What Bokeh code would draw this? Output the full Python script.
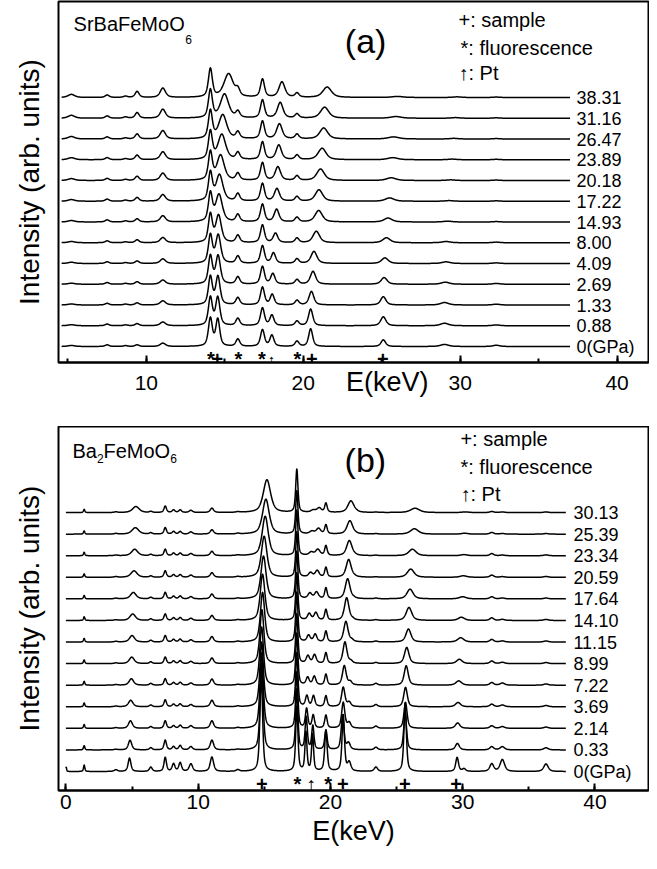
import numpy as np
from bokeh.plotting import figure
from bokeh.layouts import column
from bokeh.models import Label, SingleIntervalTicker, FixedTicker
from bokeh.embed import file_html
from bokeh.resources import INLINE

FONT = "Liberation Sans"

# ---------------- Panel (a): SrBaFeMoO6 ----------------
a_labels = ["0(GPa)", "0.88", "1.33", "2.69", "4.09", "8.00", "14.93",
            "17.22", "20.18", "23.89", "26.47", "31.16", "38.31"]
a_range = (4.6, 37.0)

# fixed-energy peaks (keV), widths (keV) and heights per trace (bottom -> top)
a_fixed_pos = [5.22, 7.50, 8.67, 9.41, 11.05, 14.08, 15.83, 17.40, 19.60, 32.30]
a_fixed_fwhm = [0.50, 0.30, 0.30, 0.30, 0.40, 0.30, 0.30, 0.30, 0.30, 0.50]
a_h_522 = [0.05, 0.05, 0.05, 0.05, 0.06, 0.06, 0.07, 0.08, 0.09, 0.10, 0.12, 0.14, 0.15]
a_h_750 = [0.08, 0.08, 0.08, 0.08, 0.08, 0.09, 0.10, 0.10, 0.10, 0.10, 0.10, 0.11, 0.12]
a_h_867 = [0.04, 0.04, 0.04, 0.04, 0.04, 0.04, 0.05, 0.05, 0.05, 0.05, 0.05, 0.06, 0.06]
a_h_941 = [0.08, 0.10, 0.10, 0.12, 0.12, 0.14, 0.15, 0.18, 0.20, 0.22, 0.24, 0.27, 0.29]
a_h_1105 = [0.16, 0.18, 0.20, 0.20, 0.22, 0.25, 0.30, 0.32, 0.35, 0.38, 0.40, 0.43, 0.45]
a_h_srka = [1.35, 1.35, 1.35, 1.35, 1.35, 1.35, 1.35, 1.35, 1.35, 1.35, 1.35, 1.35, 1.37]
a_h_srkb = [0.35, 0.35, 0.35, 0.35, 0.35, 0.35, 0.35, 0.35, 0.33, 0.33, 0.32, 0.30, 0.30]
a_h_moka = [0.80, 0.85, 0.85, 0.85, 0.85, 0.85, 0.85, 0.85, 0.85, 0.85, 0.85, 0.87, 0.87]
a_h_mokb = [0.25, 0.22, 0.22, 0.22, 0.22, 0.22, 0.22, 0.22, 0.22, 0.22, 0.22, 0.20, 0.20]
a_h_3230 = [0.06, 0.04, 0.04, 0.04, 0.03, 0.03, 0.02, 0.02, 0.02, 0.02, 0.02, 0.02, 0.02]
a_fixed_h = [a_h_522, a_h_750, a_h_867, a_h_941, a_h_1105,
             a_h_srka, a_h_srkb, a_h_moka, a_h_mokb, a_h_3230]

# pressure-shifted peaks: positions, heights, widths per trace
a_s1_pos = [14.55, 14.55, 14.56, 14.57, 14.58, 14.60, 14.63, 14.66, 14.73, 14.81, 14.87, 14.98, 15.24]
a_s1_h = [1.30, 1.35, 1.35, 1.35, 1.35, 1.30, 1.30, 1.25, 1.20, 1.20, 1.15, 1.15, 1.13]
a_s1_w = [0.30, 0.32, 0.33, 0.35, 0.38, 0.42, 0.50, 0.52, 0.55, 0.58, 0.60, 0.62, 0.70]
a_pt_pos = [18.00, 18.00, 18.02, 18.06, 18.10, 18.23, 18.30, 18.32, 18.38, 18.44, 18.48, 18.53, 18.64]
a_pt_h = [0.53, 0.50, 0.50, 0.50, 0.50, 0.45, 0.60, 0.60, 0.65, 0.70, 0.72, 0.75, 0.74]
a_pt_w = [0.30, 0.30, 0.30, 0.32, 0.32, 0.34, 0.36, 0.38, 0.40, 0.40, 0.42, 0.42, 0.45]
a_s2_pos = [20.47, 20.47, 20.52, 20.62, 20.68, 20.83, 20.98, 21.00, 21.10, 21.20, 21.30, 21.36, 21.52]
a_s2_h = [0.85, 0.80, 0.65, 0.62, 0.58, 0.55, 0.55, 0.55, 0.55, 0.55, 0.53, 0.53, 0.50]
a_s2_w = [0.30, 0.32, 0.36, 0.40, 0.45, 0.50, 0.55, 0.55, 0.58, 0.60, 0.60, 0.62, 0.65]
a_s3_pos = [25.10, 25.10, 25.10, 25.15, 25.20, 25.30, 25.40, 25.50, 25.60, 25.70, 25.75, 25.90, 26.00]
a_s3_h = [0.32, 0.43, 0.40, 0.32, 0.27, 0.24, 0.19, 0.16, 0.13, 0.10, 0.10, 0.08, 0.05]
a_s3_w = [0.35, 0.40, 0.40, 0.45, 0.50, 0.55, 0.60, 0.65, 0.70, 0.75, 0.80, 0.80, 0.80]
a_s4_pos = [29.00, 29.00, 29.00, 29.05, 29.10, 29.10, 29.20, 29.30, 29.40, 29.50, 29.60, 29.70, 29.80]
a_s4_h = [0.10, 0.12, 0.12, 0.10, 0.08, 0.06, 0.04, 0.03, 0.03, 0.03, 0.03, 0.03, 0.03]
a_s4_w = [0.60] * 13
a_moving = [(a_s1_pos, a_s1_h, a_s1_w), (a_pt_pos, a_pt_h, a_pt_w),
            (a_s2_pos, a_s2_h, a_s2_w), (a_s3_pos, a_s3_h, a_s3_w),
            (a_s4_pos, a_s4_h, a_s4_w)]

a_mark_pos = [14.11, 14.53, 15.87, 17.36, 17.98, 19.63, 20.54, 25.07]
a_mark_sym = ["*", "+", "*", "*", "\u2191", "*", "+", "+"]

# ---------------- Panel (b): Ba2FeMoO6 ----------------
b_labels = ["0(GPa)", "0.33", "2.14", "3.69", "7.22", "8.99", "11.15",
            "14.10", "17.64", "20.59", "23.34", "25.39", "30.13"]
b_range = (0.0, 37.8)

b_fixed_pos = [0.02, 1.38, 3.78, 6.42, 7.51, 8.14, 8.64, 9.45, 11.04, 13.00,
               17.46, 19.66, 23.44, 30.10, 32.20, 33.00, 36.30]
b_fixed_fwhm = [0.08, 0.12, 0.30, 0.25, 0.22, 0.25, 0.25, 0.30, 0.30, 0.30,
                0.20, 0.22, 0.30, 0.30, 0.35, 0.40, 0.40]
b_h_002 = [0.20, 0, 0, 0, 0, 0, 0, 0, 0, 0, 0, 0, 0]
b_h_138 = [0.30, 0.20, 0.18, 0.18, 0.18, 0.17, 0.17, 0.17, 0.16, 0.16, 0.16, 0.15, 0.15]
b_h_378 = [0.08, 0.03, 0.03, 0.03, 0.03, 0.03, 0.03, 0.03, 0.03, 0.03, 0.03, 0.03, 0.03]
b_h_642 = [0.20, 0.10, 0.08, 0.08, 0.08, 0.08, 0.08, 0.07, 0.07, 0.06, 0.06, 0.06, 0.05]
b_h_751 = [0.65, 0.45, 0.35, 0.32, 0.30, 0.30, 0.30, 0.30, 0.30, 0.30, 0.30, 0.30, 0.30]
b_h_814 = [0.35, 0.15, 0.12, 0.12, 0.12, 0.12, 0.12, 0.12, 0.12, 0.12, 0.12, 0.12, 0.12]
b_h_864 = [0.40, 0.20, 0.14, 0.13, 0.13, 0.13, 0.13, 0.13, 0.13, 0.12, 0.12, 0.12, 0.12]
b_h_945 = [0.35, 0.15, 0.12, 0.10, 0.10, 0.10, 0.10, 0.10, 0.10, 0.10, 0.10, 0.10, 0.10]
b_h_1104 = [0.67, 0.45, 0.35, 0.30, 0.28, 0.26, 0.25, 0.23, 0.22, 0.21, 0.20, 0.20, 0.20]
b_h_1300 = [0.08, 0.03, 0.03, 0.03, 0.03, 0.03, 0.03, 0.03, 0.03, 0.03, 0.03, 0.03, 0.03]
b_h_moka = [3.00, 2.80, 2.60, 2.50, 2.40, 2.30, 2.30, 2.20, 2.20, 2.10, 2.10, 2.00, 2.00]
b_h_mokb = [1.90, 0.90, 0.60, 0.50, 0.50, 0.50, 0.50, 0.50, 0.50, 0.45, 0.45, 0.42, 0.42]
b_h_2344 = [0.20, 0.12, 0.10, 0.10, 0.08, 0.05, 0.04, 0.03, 0.03, 0.02, 0.02, 0.02, 0.02]
b_h_3010 = [0.12, 0, 0, 0, 0, 0, 0, 0, 0, 0, 0, 0, 0]
b_h_3220 = [0.35, 0.15, 0.12, 0.12, 0.12, 0.12, 0.12, 0.12, 0.10, 0.10, 0.10, 0.08, 0.05]
b_h_3300 = [0.55, 0.15, 0.08, 0.08, 0.10, 0.06, 0.05, 0.05, 0.04, 0.03, 0.03, 0.03, 0.03]
b_h_3630 = [0.35, 0.10, 0.06, 0.06, 0.06, 0.05, 0.05, 0.05, 0.04, 0.04, 0.04, 0.03, 0.03]
b_fixed_h = [b_h_002, b_h_138, b_h_378, b_h_642, b_h_751, b_h_814, b_h_864, b_h_945,
             b_h_1104, b_h_1300, b_h_moka, b_h_mokb, b_h_2344, b_h_3010, b_h_3220,
             b_h_3300, b_h_3630]

b_l1_pos = [4.81, 4.85, 4.88, 4.90, 4.95, 4.98, 5.00, 5.05, 5.10, 5.15, 5.20, 5.25, 5.29]
b_l1_h = [0.62, 0.45, 0.35, 0.30, 0.30, 0.30, 0.30, 0.30, 0.30, 0.30, 0.30, 0.30, 0.28]
b_l1_w = [0.25, 0.30, 0.35, 0.40, 0.40, 0.45, 0.45, 0.50, 0.50, 0.55, 0.55, 0.60, 0.60]
b_s1_pos = [14.77, 14.80, 14.80, 14.80, 14.80, 14.82, 14.87, 14.87, 14.94, 14.99, 15.07, 15.12, 15.20]
b_s1_h = [4.50, 4.00, 3.50, 3.00, 2.70, 2.50, 2.30, 2.14, 1.98, 1.90, 1.83, 1.62, 1.52]
b_s1_w = [0.24, 0.27, 0.30, 0.32, 0.34, 0.36, 0.38, 0.42, 0.46, 0.50, 0.54, 0.60, 0.66]
b_a_pos = [18.15, 18.17, 18.20, 18.22, 18.28, 18.30, 18.35, 18.40, 18.45, 18.50, 18.55, 18.60, 18.70]
b_a_h = [1.80, 1.50, 0.90, 0.50, 0.35, 0.35, 0.30, 0.30, 0.25, 0.20, 0.15, 0.12, 0.10]
b_a_w = [0.18, 0.20, 0.22, 0.25, 0.28, 0.30, 0.30, 0.32, 0.35, 0.35, 0.40, 0.40, 0.40]
b_pt_pos = [18.65, 18.67, 18.70, 18.72, 18.78, 18.80, 18.85, 18.90, 18.95, 19.00, 19.05, 19.10, 19.15]
b_pt_h = [1.70, 1.10, 0.60, 0.50, 0.40, 0.40, 0.35, 0.35, 0.30, 0.30, 0.28, 0.25, 0.20]
b_pt_w = [0.18, 0.20, 0.22, 0.25, 0.28, 0.30, 0.30, 0.32, 0.35, 0.35, 0.40, 0.40, 0.40]
b_s2_pos = [20.97, 20.92, 20.97, 20.97, 21.05, 21.10, 21.17, 21.23, 21.30, 21.38, 21.43, 21.47, 21.55]
b_s2_h = [2.60, 1.60, 1.20, 0.90, 0.90, 1.00, 0.95, 1.05, 0.93, 0.82, 0.70, 0.62, 0.54]
b_s2_w = [0.22, 0.25, 0.28, 0.30, 0.33, 0.35, 0.38, 0.40, 0.42, 0.45, 0.48, 0.50, 0.55]
b_s2b_pos = [21.42, 21.37, 21.42, 21.42, 21.50, 21.55, 21.62, 21.68, 21.75, 21.83, 21.88, 21.92, 22.00]
b_s2b_h = [0.40, 0.30, 0.25, 0.20, 0.15, 0.10, 0.08, 0.05, 0.04, 0.03, 0.02, 0.02, 0.02]
b_s2b_w = [0.30] * 13
b_s3_pos = [25.65, 25.65, 25.68, 25.68, 25.73, 25.77, 25.90, 25.94, 26.02, 26.07, 26.20, 26.35, 26.40]
b_s3_h = [3.20, 1.70, 1.20, 0.90, 0.90, 0.75, 0.60, 0.60, 0.45, 0.38, 0.30, 0.25, 0.20]
b_s3_w = [0.22, 0.25, 0.28, 0.32, 0.36, 0.40, 0.45, 0.50, 0.55, 0.60, 0.65, 0.70, 0.80]
b_s4_pos = [29.58, 29.60, 29.62, 29.65, 29.70, 29.75, 29.85, 29.90, 30.00, 30.05, 30.10, 30.15, 30.20]
b_s4_h = [0.65, 0.30, 0.25, 0.20, 0.20, 0.20, 0.20, 0.15, 0.10, 0.07, 0.05, 0.04, 0.03]
b_s4_w = [0.25, 0.35, 0.40, 0.45, 0.50, 0.50, 0.55, 0.55, 0.60, 0.60, 0.60, 0.60, 0.60]
b_moving = [(b_l1_pos, b_l1_h, b_l1_w), (b_s1_pos, b_s1_h, b_s1_w),
            (b_a_pos, b_a_h, b_a_w), (b_pt_pos, b_pt_h, b_pt_w),
            (b_s2_pos, b_s2_h, b_s2_w), (b_s2b_pos, b_s2b_h, b_s2b_w),
            (b_s3_pos, b_s3_h, b_s3_w), (b_s4_pos, b_s4_h, b_s4_w)]

b_mark_pos = [14.81, 17.50, 18.53, 19.82, 20.93, 25.62, 29.50]
b_mark_sym = ["+", "*", "\u2191", "*", "+", "+", "+"]


def peak(x, c, h, w, eta=0.6):
    d = (x - c) / w
    return h * (eta / (1 + 4 * d * d) + (1 - eta) * np.exp(-4 * np.log(2) * d * d))


def traces(xr, fixed_pos, fixed_w, fixed_h, moving, n):
    x = np.linspace(xr[0], xr[1], 2400)
    xs, ys = [], []
    for i in range(n):
        y = np.zeros_like(x)
        for c, w, hh in zip(fixed_pos, fixed_w, fixed_h):
            if hh[i] > 0:
                y += peak(x, c, hh[i], w)
        for pos, hh, ww in moving:
            y += peak(x, pos[i], hh[i], ww[i])
        xs.append(x.tolist())
        ys.append((y + i).tolist())
    return xs, ys


def txt(p, x, y, s, size, align="left", baseline="middle", style="normal"):
    p.add_layout(Label(x=x, y=y, text=s, text_font=FONT, text_font_size=size,
                       text_align=align, text_baseline=baseline,
                       text_color="black", text_font_style=style))


def make_panel(height, xr, yr, ybounds, top_border, bottom_border, tick_standoff):
    p = figure(width=649, height=height, x_range=xr, y_range=yr,
               output_backend="svg", toolbar_location=None,
               min_border_left=58, min_border_right=1,
               min_border_top=top_border, min_border_bottom=bottom_border)
    p.background_fill_color = "white"
    p.border_fill_color = "white"
    p.outline_line_color = "black"
    p.outline_line_width = 2
    p.xgrid.visible = False
    p.ygrid.visible = False
    ax = p.xaxis[0]
    ax.ticker = SingleIntervalTicker(interval=10, num_minor_ticks=2)
    ax.major_tick_in = 7
    ax.major_tick_out = 0
    ax.minor_tick_in = 4
    ax.minor_tick_out = 0
    ax.major_tick_line_width = 2
    ax.minor_tick_line_width = 2
    ax.axis_line_width = 2
    ax.major_label_text_font = FONT
    ax.major_label_text_font_size = "21px"
    ax.major_label_text_color = "black"
    ax.major_label_standoff = tick_standoff
    ax.axis_label_text_font = FONT
    ax.axis_label_text_font_size = "27px"
    ax.axis_label_text_font_style = "normal"
    ax.axis_label_text_color = "black"
    ay = p.yaxis[0]
    ay.ticker = FixedTicker(ticks=[])
    ay.bounds = ybounds
    ay.major_tick_in = 0
    ay.major_tick_out = 0
    ay.minor_tick_in = 0
    ay.minor_tick_out = 0
    ay.axis_line_color = None
    ay.axis_label = "Intensity (arb. units)"
    ay.axis_label_text_font = FONT
    ay.axis_label_text_font_size = "28px"
    ay.axis_label_text_font_style = "normal"
    ay.axis_label_text_color = "black"
    ay.axis_label_standoff = 14
    return p


LW = 1.5

# ---------- top panel ----------
pa = make_panel(426, (4.4, 42.0), (-0.771, 16.627), (-0.2, 16.627), 1, 64, 13)
# the (a) axis title sits in the tick-label row, right of centre
pa.xaxis[0].axis_label = "\u00a0" * 9 + "E(keV)"
pa.xaxis[0].axis_label_standoff = -26
xs, ys = traces(a_range, a_fixed_pos, a_fixed_fwhm, a_fixed_h, a_moving, len(a_labels))
pa.multi_line(xs=xs, ys=ys, line_color="black", line_width=LW, line_join="round")
for i, lab in enumerate(a_labels):
    txt(pa, 37.41, i, lab, "18px")
for xm, sm in zip(a_mark_pos, a_mark_sym):
    sz = "15px" if sm == "\u2191" else "20px"
    txt(pa, xm, -0.61, sm, sz, align="center", baseline="alphabetic", style="bold")
txt(pa, 5.36, 15.52, "SrBaFeMoO", "20px")
txt(pa, 12.48, 14.80, "6", "12px")
txt(pa, 23.97, 14.70, "(a)", "34px", align="center")
txt(pa, 29.89, 15.73, "+: sample", "20px")
txt(pa, 30.02, 14.41, "*: fluorescence", "20px")
txt(pa, 29.89, 13.20, "\u2191: Pt", "20px")

# ---------- bottom panel ----------
pb = make_panel(427, (-0.56, 44.05), (-0.88, 15.99), (-0.23, 15.99), 0, 63, 4)
pb.xaxis[0].axis_label = "E(keV)"
pb.xaxis[0].axis_label_standoff = 4
xs, ys = traces(b_range, b_fixed_pos, b_fixed_fwhm, b_fixed_h, b_moving, len(b_labels))
pb.multi_line(xs=xs, ys=ys, line_color="black", line_width=LW, line_join="round")
for i, lab in enumerate(b_labels):
    txt(pb, 38.37, i, lab, "18px")
for xm, sm in zip(b_mark_pos, b_mark_sym):
    txt(pb, xm, -0.59, sm, "20px", align="center", baseline="alphabetic", style="bold")
txt(pb, 0.50, 14.87, "Ba", "20px")
txt(pb, 2.35, 14.53, "2", "12px")
txt(pb, 2.84, 14.87, "FeMoO", "20px")
txt(pb, 7.88, 14.53, "6", "12px")
txt(pb, 22.64, 14.46, "(b)", "34px", align="center")
txt(pb, 29.83, 15.43, "+: sample", "20px")
txt(pb, 29.83, 14.09, "*: fluorescence", "20px")
txt(pb, 29.83, 12.88, "\u2191: Pt", "20px")

layout = column(pa, pb, spacing=0)
open("out.html", "w").write(file_html(layout, INLINE))
